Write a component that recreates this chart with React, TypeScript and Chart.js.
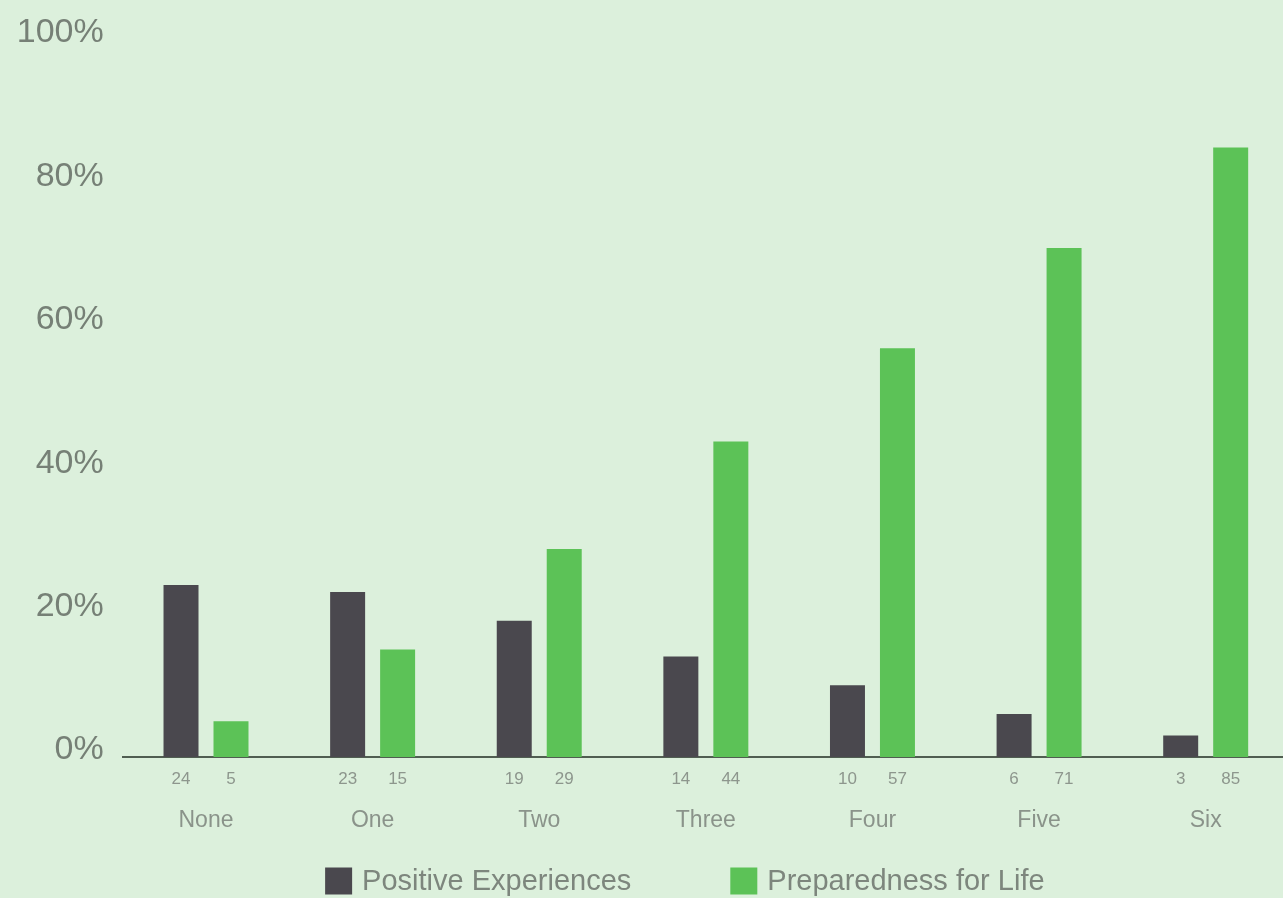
import React, { useEffect, useRef } from "react";
import { Chart, registerables } from "chart.js";

Chart.register(...registerables);

const categories = ["None", "One", "Two", "Three", "Four", "Five", "Six"];
const positiveExperiences = [24, 23, 19, 14, 10, 6, 3];
const preparednessForLife = [5, 15, 29, 44, 57, 71, 85];
const seriesLabels = ["Positive Experiences", "Preparedness for Life"];
const seriesColors = ["#4a484e", "#5cc257"];
const yTicks = [0, 20, 40, 60, 80, 100];

const FONT = "'Liberation Sans', Arial, sans-serif";
const BG = "#dcf0dc";

const valueLabelPlugin = {
  id: "valueLabels",
  afterDatasetsDraw(chart: any) {
    const { ctx } = chart;
    const bottom = chart.chartArea.bottom;
    ctx.save();
    ctx.font = `17px ${FONT}`;
    ctx.fillStyle = "#8d968d";
    ctx.textAlign = "center";
    ctx.textBaseline = "middle";
    chart.data.datasets.forEach((ds: any, di: number) => {
      const meta = chart.getDatasetMeta(di);
      meta.data.forEach((bar: any, i: number) => {
        ctx.fillText(String(ds.data[i]), bar.x, bottom + 22);
      });
    });
    ctx.restore();
  },
};

const legendPlugin = {
  id: "customLegend",
  afterDraw(chart: any) {
    const { ctx } = chart;
    ctx.save();
    ctx.font = `29px ${FONT}`;
    ctx.textBaseline = "middle";
    ctx.textAlign = "left";
    const box = 27;
    const gapText = 10;
    const gapItems = 99;
    const widths = chart.data.datasets.map((ds: any) => ctx.measureText(ds.label).width);
    let total = 0;
    widths.forEach((w: number, i: number) => {
      total += box + gapText + w + (i < widths.length - 1 ? gapItems : 0);
    });
    const cx = (chart.chartArea.left + chart.chartArea.right) / 2 - 21;
    let x = cx - total / 2;
    const cy = 881;
    chart.data.datasets.forEach((ds: any, i: number) => {
      ctx.fillStyle = ds.backgroundColor;
      ctx.fillRect(x, cy - box / 2, box, box);
      ctx.fillStyle = "#7d867d";
      ctx.fillText(ds.label, x + box + gapText, cy + 1);
      x += box + gapText + widths[i] + gapItems;
    });
    ctx.restore();
  },
};

export default function App() {
  const canvasRef = useRef<HTMLCanvasElement | null>(null);

  useEffect(() => {
    if (!canvasRef.current) return;
    const chart = new Chart(canvasRef.current, {
      type: "bar",
      data: {
        labels: categories,
        datasets: [
          {
            label: seriesLabels[0],
            data: positiveExperiences,
            backgroundColor: seriesColors[0],
            barPercentage: 0.7,
            categoryPercentage: 0.6,
          },
          {
            label: seriesLabels[1],
            data: preparednessForLife,
            backgroundColor: seriesColors[1],
            barPercentage: 0.7,
            categoryPercentage: 0.6,
          },
        ],
      },
      options: {
        animation: false,
        responsive: false,
        maintainAspectRatio: false,
        layout: { padding: { top: 40, right: 0, bottom: 0, left: 0 } },
        plugins: {
          legend: { display: false },
          tooltip: { enabled: false },
        },
        scales: {
          x: {
            grid: { display: false, drawTicks: false },
            border: { display: true, color: "#505e51", width: 2 },
            ticks: {
              font: { family: FONT, size: 23 },
              color: "#8a938a",
              padding: 50,
            },
            afterFit(scale: any) {
              scale.height = 141;
            },
          },
          y: {
            min: 0,
            max: 100,
            afterBuildTicks(scale: any) {
              scale.ticks = yTicks.map((v) => ({ value: v }));
            },
            grid: { display: false, drawTicks: false },
            border: { display: false },
            ticks: {
              font: { family: FONT, size: 34 },
              color: "#768076",
              padding: 19,
              labelOffset: -7,
              callback: (v: any) => `${v}%`,
            },
            afterFit(scale: any) {
              scale.width = 122.7;
            },
          },
        },
      },
      plugins: [valueLabelPlugin, legendPlugin],
    });
    return () => chart.destroy();
  }, []);

  return (
    <div
      style={{
        position: "fixed",
        left: 0,
        top: 0,
        width: 1283,
        height: 898,
        overflow: "hidden",
        background: BG,
      }}
    >
      <canvas ref={canvasRef} width={1289} height={898} style={{ display: "block", width: 1289, height: 898 }} />
    </div>
  );
}
